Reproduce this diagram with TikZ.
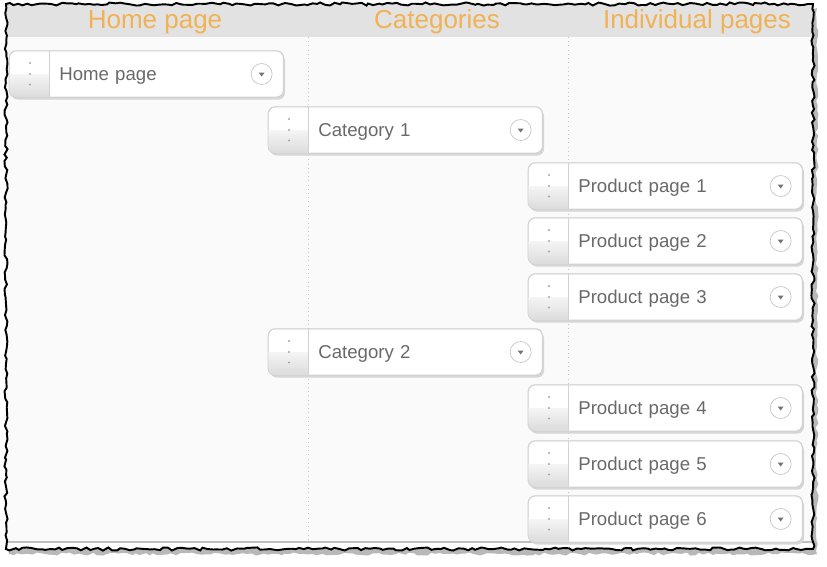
\documentclass[tikz,border=0pt]{standalone}
\usepackage{fontspec}
\setmainfont{Liberation Sans}
\usetikzlibrary{decorations.pathmorphing,shadows}

\definecolor{titleorange}{RGB}{240,178,84}
\definecolor{headgray}{RGB}{226,226,226}
\definecolor{panelbg}{RGB}{250,250,250}
\definecolor{cardline}{RGB}{210,210,210}
\definecolor{cardtext}{RGB}{105,105,105}

\begin{document}
\begin{tikzpicture}[x=0.02cm,y=-0.02cm,
    pagecard/.style ={draw=cardline, fill=white, rounded corners=4pt, anchor=west,
      minimum height=0.92cm, text width=3.48cm, inner xsep=1cm, inner ysep=0pt, align=left,
      text=cardtext, font=\fontsize{10.6}{12}\selectfont, text depth=-0.6pt,
      drop shadow={shadow xshift=1pt, shadow yshift=-1.5pt, fill=black!16, opacity=1}},
    coltitle/.style ={text=titleorange, font=\fontsize{14.8}{16}\selectfont},
    torn/.style ={decorate, decoration={random steps, segment length=2.5pt, amplitude=0.9pt}}]
   \useasboundingbox (0,0) rectangle (827,566);
   % paper and header
   \pgfmathsetseed{11}
   \fill[black!28,torn] (9,8) rectangle (817,554);
   \pgfmathsetseed{7}
   \fill[panelbg,torn] (6,4) rectangle (813,549);
   \begin{scope}
     \pgfmathsetseed{7}
     \clip[torn] (6,4) rectangle (813,549);
     \fill[headgray] (0,0) rectangle (827,37);
     \fill[white] (0,543) rectangle (827,560);
     \draw[black!25,line width=1.2pt] (0,542) -- (827,542);
   \end{scope}
   \node[coltitle] (hdhome) at (155,22) {Home page};
   \node[coltitle] (hdcat)  at (437,22) {Categories};
   \node[coltitle] (hdind)  at (697,22) {Individual pages};
   \coordinate (sep1top) at (308,37);
   \coordinate (sep1bot) at (308,542);
   \coordinate (sep2top) at (568,37);
   \coordinate (sep2bot) at (568,542);
   \draw[black!22,dotted] (sep1top) -- (sep1bot);
   \draw[black!22,dotted] (sep2top) -- (sep2bot);
   % page cards
   \node[pagecard] (home)  at (9,74)    {Home page};
   \node[pagecard] (cat1)  at (268,130) {Category 1};
   \node[pagecard] (prod1) at (528,186) {Product page 1};
   \node[pagecard] (prod2) at (528,241) {Product page 2};
   \node[pagecard] (prod3) at (528,297) {Product page 3};
   \node[pagecard] (cat2)  at (268,352) {Category 2};
   \node[pagecard] (prod4) at (528,408) {Product page 4};
   \node[pagecard] (prod5) at (528,464) {Product page 5};
   \node[pagecard] (prod6) at (528,519) {Product page 6};
   \foreach \n in {home,cat1,prod1,prod2,prod3,cat2,prod4,prod5,prod6} {
     \shade[top color=black!4, bottom color=black!14]
       ([xshift=0.8cm]\n.west) -- ([xshift=0.8cm]\n.south west)
       [rounded corners=4pt] -- (\n.south west) [sharp corners] -- (\n.west) -- cycle;
     \draw[cardline, rounded corners=4pt] (\n.north west) rectangle (\n.south east);
     \draw[cardline] ([xshift=0.8cm]\n.north west) -- ([xshift=0.8cm]\n.south west);
     \foreach \d in {0.22,0,-0.21}
       \fill[black!35] ([xshift=0.42cm,yshift=\d cm]\n.west) circle (0.6pt);
     \draw[black!22,fill=white] ([xshift=-0.44cm]\n.east) circle (0.21cm);
     \fill[black!55] ([xshift=-0.5cm,yshift=0.03cm]\n.east) -- ++(0.12cm,0)
       -- ++(-0.06cm,-0.08cm) -- cycle;
   }
   % torn edge
   \pgfmathsetseed{7}
   \draw[black,line width=1.1pt,torn] (6,4) rectangle (813,549);
 \end{tikzpicture}
\end{document}
